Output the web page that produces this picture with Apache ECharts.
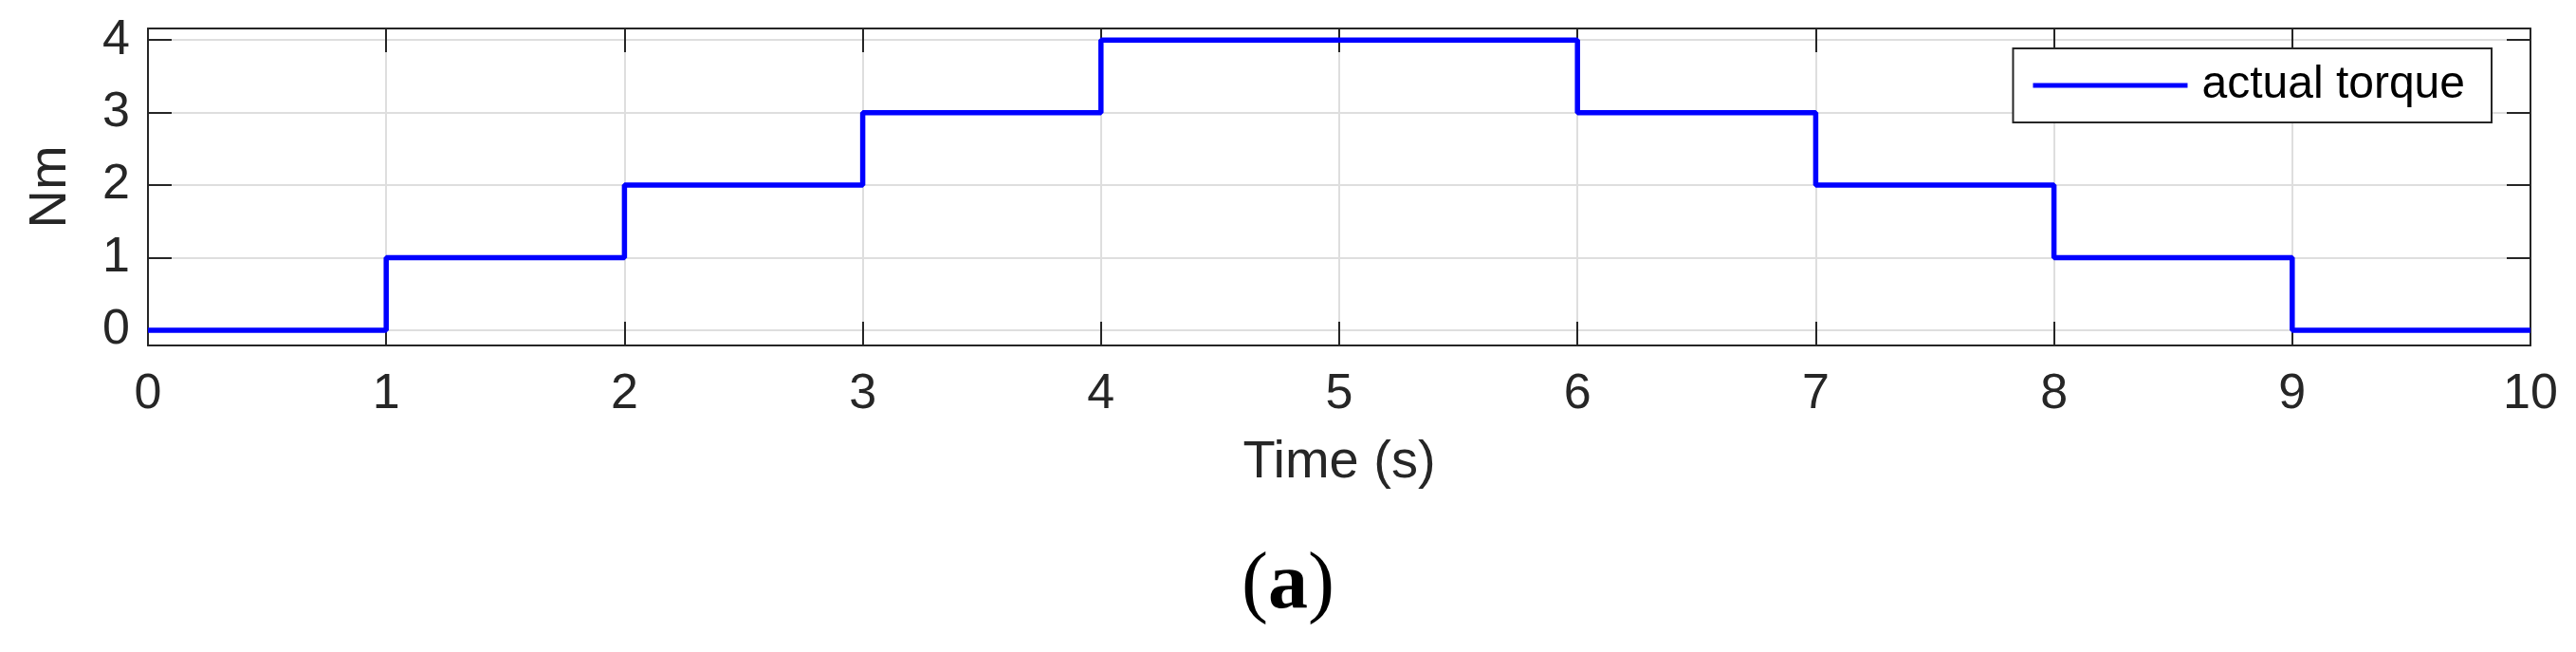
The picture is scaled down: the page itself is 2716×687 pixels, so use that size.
<!DOCTYPE html>
<html>
<head>
<meta charset="utf-8">
<script src="https://cdn.jsdelivr.net/npm/echarts@6/dist/echarts.min.js"></script>
<style>
  html, body { margin: 0; padding: 0; background: #fff; }
  #chart { width: 2716px; height: 687px; }
</style>
</head>
<body>
<div id="chart"></div>
<script>
// Data
const time = [0, 1, 2, 3, 4, 6, 7, 8, 9, 10];        // s, start of each level
const torque = [0, 1, 2, 3, 4, 3, 2, 1, 0, 0];       // Nm
const seriesName = 'actual torque';
const xAxisTitle = 'Time (s)';
const yAxisTitle = 'Nm';
const caption = 'a';

const axisColor = '#262626';
const gridColor = '#dedede';
const sans = '"Liberation Sans", Arial, Helvetica, sans-serif';

const chart = echarts.init(document.getElementById('chart'), null, { renderer: 'canvas' });

const tickStyle = { show: true, inside: true, length: 25, lineStyle: { color: axisColor, width: 2 } };

chart.setOption({
  animation: false,
  backgroundColor: '#ffffff',
  grid: { left: 156, right: 48, top: 30, bottom: 323, containLabel: false },
  legend: {
    right: 89,
    top: 51,
    orient: 'vertical',
    icon: 'rect',
    itemWidth: 163,
    itemHeight: 5,
    padding: [15, 28, 15, 21],
    backgroundColor: '#ffffff',
    borderColor: axisColor,
    borderWidth: 2,
    borderRadius: 0,
    textStyle: { fontFamily: sans, fontSize: 48, color: '#000', lineHeight: 48, padding: [0, 0, 0, 10] },
    data: [seriesName]
  },
  xAxis: [
    {
      type: 'value', position: 'bottom', min: 0, max: 10, interval: 1,
      name: xAxisTitle, nameLocation: 'middle', nameGap: 96,
      nameTextStyle: { fontFamily: sans, fontSize: 56, color: axisColor },
      axisLine: { show: true, onZero: false, lineStyle: { color: axisColor, width: 2 } },
      axisTick: tickStyle,
      axisLabel: { fontFamily: sans, fontSize: 52, color: axisColor, margin: 26 },
      splitLine: { show: true, lineStyle: { color: gridColor, width: 2 } }
    },
    {
      type: 'value', position: 'top', min: 0, max: 10, interval: 1,
      axisLine: { show: true, onZero: false, lineStyle: { color: axisColor, width: 2 } },
      axisTick: tickStyle,
      axisLabel: { show: false },
      splitLine: { show: false }
    }
  ],
  yAxis: [
    {
      type: 'value', position: 'left', min: -0.21, max: 4.16, splitNumber: 5,
      name: yAxisTitle, nameLocation: 'middle', nameGap: 74, nameRotate: 90,
      nameTextStyle: { fontFamily: sans, fontSize: 56, color: axisColor },
      axisLine: { show: true, onZero: false, lineStyle: { color: axisColor, width: 2 } },
      axisTick: tickStyle,
      axisLabel: {
        fontFamily: sans, fontSize: 52, color: axisColor, margin: 19,
        showMinLabel: false, showMaxLabel: false,
        formatter: v => (Math.abs(v - Math.round(v)) < 1e-9 ? String(Math.round(v)) : '')
      },
      splitLine: { show: true, lineStyle: { color: gridColor, width: 2 } }
    },
    {
      type: 'value', position: 'right', min: -0.21, max: 4.16, splitNumber: 5,
      axisLine: { show: true, onZero: false, lineStyle: { color: axisColor, width: 2 } },
      axisTick: tickStyle,
      axisLabel: { show: false },
      splitLine: { show: false }
    }
  ],
  series: [
    {
      name: seriesName,
      type: 'line',
      step: 'end',
      xAxisIndex: 0,
      yAxisIndex: 0,
      symbol: 'none',
      color: '#0000ff',
      lineStyle: { color: '#0000ff', width: 5.5 },
      data: time.map((t, i) => [t, torque[i]]),
      z: 3
    }
  ],
  graphic: [
    {
      type: 'text',
      x: 1358,
      y: 618,
      style: {
        text: '{p|(}{b|' + caption + '}{p|)}',
        align: 'center',
        verticalAlign: 'middle',
        rich: {
          p: { fontFamily: '"Liberation Serif", "Times New Roman", serif', fontSize: 84, fontWeight: 'normal', fill: '#000' },
          b: { fontFamily: '"Liberation Serif", "Times New Roman", serif', fontSize: 84, fontWeight: 'bold', fill: '#000' }
        }
      }
    }
  ]
});
</script>
</body>
</html>
